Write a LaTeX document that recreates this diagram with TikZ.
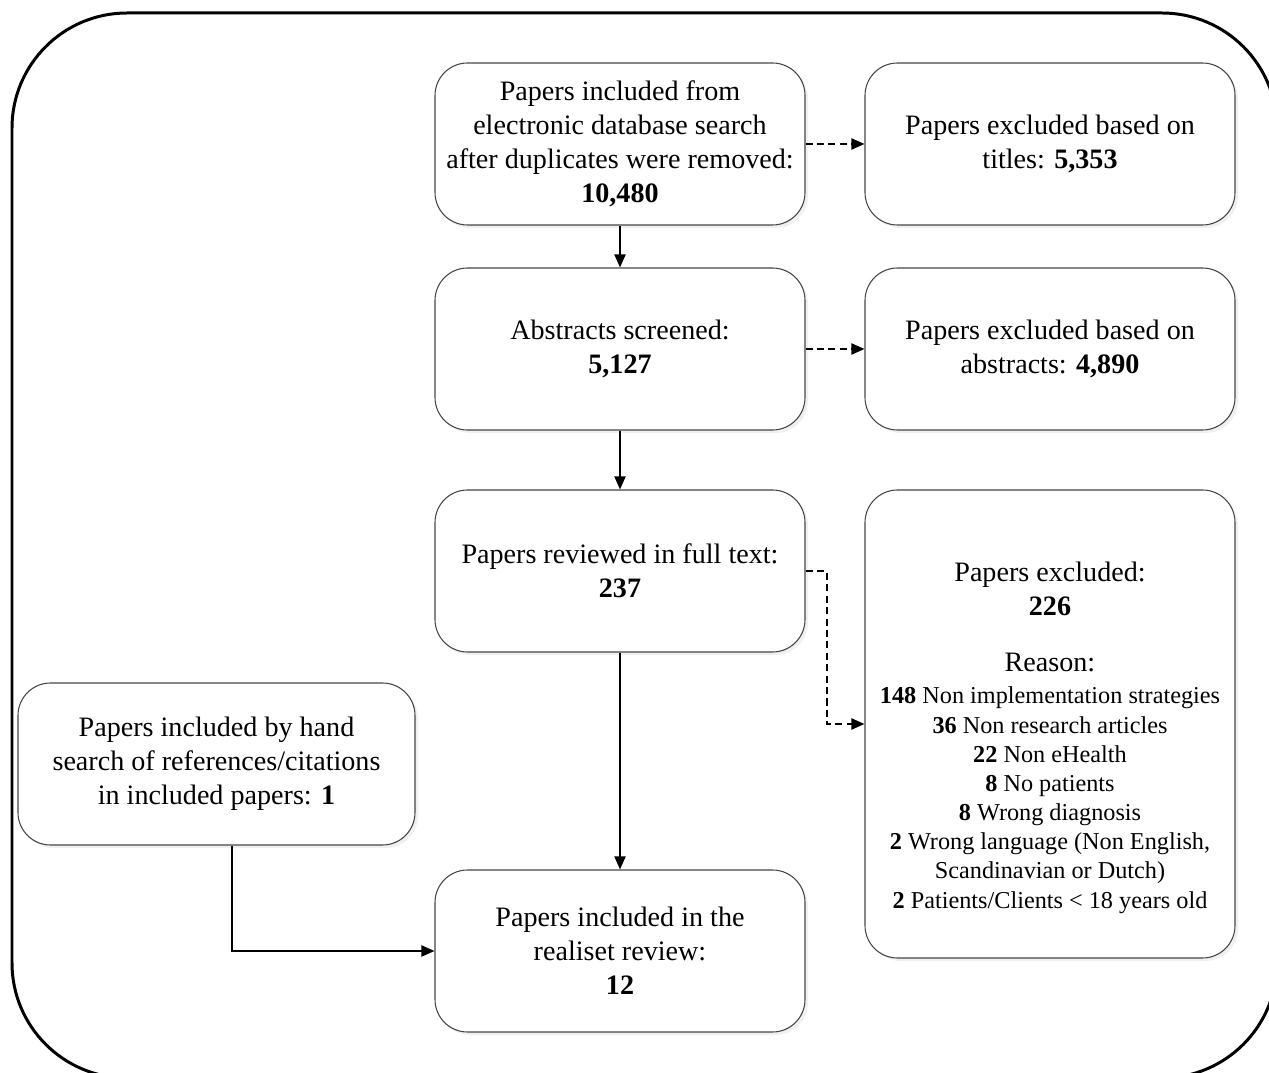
\documentclass[tikz,border=0pt]{standalone}
\usepackage{fontspec}
\setmainfont{Liberation Serif}
\usetikzlibrary{arrows.meta, positioning, shadows}
\definecolor{cLine}{RGB}{70,70,70}
\tikzset{
	stage/.style={rectangle, rounded corners=0.65cm, draw=cLine, line width=0.6pt, minimum width=7.4cm, minimum height=3.24cm, align=center, fill=white, font=\fontsize{16}{19.3}\selectfont, drop shadow={opacity=0.12, shadow xshift=0.06cm, shadow yshift=-0.06cm}},
	plain/.style={align=center, inner sep=0pt},
	flowarrow/.style={-{Triangle[length=2.6mm, width=2.2mm]}, line width=1.1pt},
	skiparrow/.style={flowarrow, dash pattern=on 4pt off 2.5pt},
}
\begin{document}
\begin{tikzpicture}
	\useasboundingbox (0,0) rectangle (25.38,-21.46);
	\clip (0,0) rectangle (25.38,-21.46);
	% outer frame
	\draw[line width=1.7pt, rounded corners=2.3cm] (0.24,-0.26) rectangle (25.54,-21.56);
	% main column
	\node[stage] (dbsearch) at (12.4,-2.88) {Papers included from\\electronic database search\\after duplicates were removed:\\\textbf{10,480}};
	\node[stage] (abstracts) at (12.4,-6.98) {Abstracts screened:\\\textbf{5,127}};
	\node[stage] (fulltext) at (12.4,-11.42) {Papers reviewed in full text:\\\textbf{237}};
	\node[stage] (review) at (12.4,-19.02) {Papers included in the\\realiset review:\\\textbf{12}};
	% exclusions
	\node[stage] (titlesout) at (21.0,-2.88) {Papers excluded based on\\titles: \textbf{5,353}};
	\node[stage] (abstractsout) at (21.0,-6.98) {Papers excluded based on\\abstracts: \textbf{4,890}};
	\node[stage, minimum height=9.36cm] (fullout) at (21.0,-14.48) {};
	\node[plain, font=\fontsize{16}{19.3}\selectfont] (fullhead) at (21.0,-11.78) {Papers excluded:\\\textbf{226}};
	\node[plain, font=\fontsize{13.8}{16.6}\selectfont] (fullwhy) at (21.0,-15.66) {{\fontsize{16}{18}\selectfont Reason:}\\[2pt]
		\textbf{148} Non implementation strategies\\
		\textbf{36} Non research articles\\
		\textbf{22} Non eHealth\\
		\textbf{8} No patients\\
		\textbf{8} Wrong diagnosis\\
		\textbf{2} Wrong language (Non English,\\
		Scandinavian or Dutch)\\
		\textbf{2} Patients/Clients < 18 years old};
	% hand search
	\node[stage, minimum width=7.94cm] (handsearch) at (4.33,-15.28) {Papers included by hand\\search of references/citations\\in included papers: \textbf{1}};
	% connectors
	\draw[flowarrow] (dbsearch) -- (abstracts);
	\draw[flowarrow] (abstracts) -- (fulltext);
	\draw[flowarrow] (fulltext) -- (review);
	\draw[skiparrow] (dbsearch) -- (titlesout);
	\draw[skiparrow] (abstracts) -- (abstractsout);
	\draw[skiparrow] (fulltext.east) -- ++(0.42,0) |- (fullout.west);
	\draw[flowarrow] ([xshift=0.31cm]handsearch.south) |- (review.west);
\end{tikzpicture}
\end{document}
